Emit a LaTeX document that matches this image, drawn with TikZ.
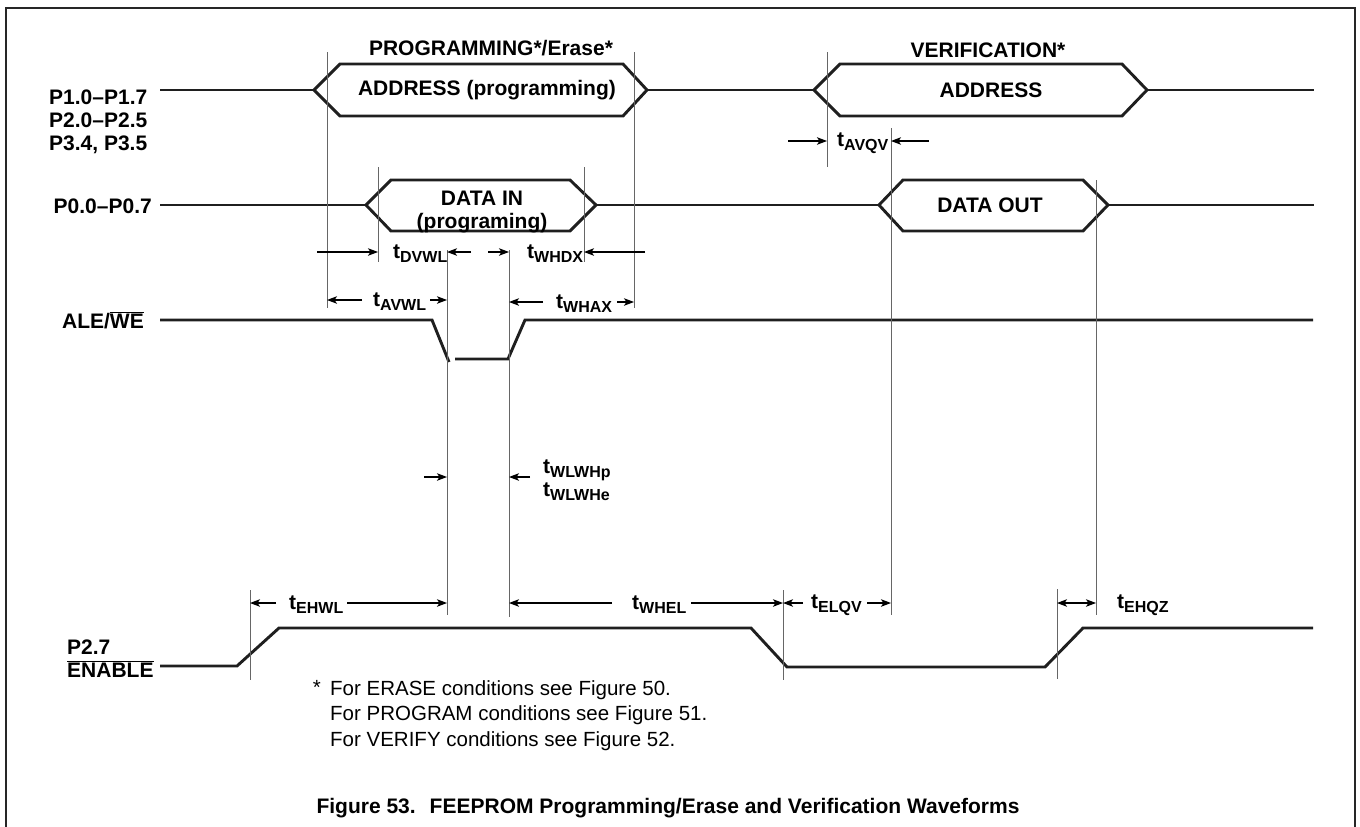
\documentclass[tikz,border=0pt]{standalone}
\usepackage{fontspec}
\setmainfont{Liberation Sans}
\usepackage{tikz}
\usetikzlibrary{arrows.meta,positioning}

\newcommand{\tsub}[1]{t\raisebox{-4pt}{\fontsize{16}{16}\selectfont #1}}
\newcommand{\ovl}[1]{\ensuremath{\overline{\mbox{#1}}}}

\begin{document}
\begin{tikzpicture}[
    x=1pt, y=-1pt,
    >={Stealth[length=10pt,width=7.5pt,inset=2.5pt]},
    frame/.style={line width=1.8pt, draw=black!85},
    wave/.style={line width=2.9pt, draw=black!88, line join=miter},
    tick/.style={line width=0.9pt, draw=black!60},
    dim/.style={->, line width=1.1pt},
    sig/.style={font=\bfseries\fontsize{21}{23}\selectfont, inner sep=0pt},
    tlbl/.style={font=\bfseries\fontsize{21}{23}\selectfont, inner sep=0pt, anchor=west},
    note/.style={font=\fontsize{20.5}{25.5}\selectfont, inner sep=0pt, align=left}
]
    \useasboundingbox (0,0) rectangle (1360,827);
    \draw[frame] (6,827) -- (6,8) -- (1355,8) -- (1355,827);

    % Signal names
    \node[sig, align=left, anchor=north west] (portA) at (49,89.5) {P1.0--P1.7\\P2.0--P2.5\\P3.4, P3.5};
    \node[sig, anchor=base east] (port0) at (152,213) {P0.0--P0.7};
    \node[sig, anchor=base east] (ale) at (144,328) {ALE/\ovl{WE}};
    \node[sig, align=left, anchor=north west] (enable) at (67,639.5) {P2.7\\\ovl{ENABLE}};

    % Phase headers
    \node[sig] (progHdr) at (491,48) {PROGRAMMING*/Erase*};
    \node[sig] (verHdr) at (988,50) {VERIFICATION*};

    % Address bus
    \draw[wave] (160,90) -- (314,90);
    \draw[wave] (314,90) -- (340,64) -- (623,64) -- (647,90) -- (623,116) -- (340,116) -- cycle;
    \draw[wave] (647,90) -- (814,90);
    \draw[wave] (814,90) -- (840,64) -- (1122,64) -- (1147,90) -- (1122,116) -- (840,116) -- cycle;
    \draw[wave] (1147,90) -- (1314,90);
    \node[sig] (addrP) at (487,90) {ADDRESS (programming)};
    \node[sig] (addrV) at (991,90) {ADDRESS};

    % Data bus
    \draw[wave] (160,205) -- (366,205);
    \draw[wave] (366,205) -- (391,180) -- (570,180) -- (596,205) -- (570,231) -- (391,231) -- cycle;
    \draw[wave] (596,205) -- (879,205);
    \draw[wave] (879,205) -- (903,180) -- (1083,180) -- (1108,205) -- (1083,231) -- (903,231) -- cycle;
    \draw[wave] (1108,205) -- (1314,205);
    \node[sig, align=center] (dataIn) at (482,212) {DATA IN\\(programing)};
    \node[sig] (dataOut) at (990,205) {DATA OUT};

    % ALE/WE
    \draw[wave] (160,320) -- (432,320) -- (449,362);
    \draw[wave] (455,359) -- (508,359) -- (525,320) -- (1313,320);

    % P2.7 ENABLE
    \draw[wave] (160,666) -- (237,666) -- (279,628) -- (751,628) -- (787,667) -- (1045,667) -- (1083,628) -- (1313,628);

    % Time marks
    \coordinate (avS) at (327,52);   \coordinate (avSb) at (327,308);
    \coordinate (avE) at (634,52);   \coordinate (avEb) at (634,308);
    \coordinate (dvS) at (378,167);  \coordinate (dvSb) at (378,262);
    \coordinate (dvE) at (584,167);  \coordinate (dvEb) at (584,262);
    \coordinate (wl) at (447,250);   \coordinate (wlb) at (447,615);
    \coordinate (wh) at (509,250);   \coordinate (whb) at (509,617);
    \coordinate (vaS) at (827,52);   \coordinate (vaSb) at (827,167);
    \coordinate (qv) at (891,128);   \coordinate (qvb) at (891,615);
    \coordinate (qz) at (1096,180);  \coordinate (qzb) at (1096,615);
    \coordinate (ehA) at (250,590);  \coordinate (ehAb) at (250,680);
    \coordinate (el) at (783,590);   \coordinate (elb) at (783,680);
    \coordinate (ehB) at (1057,589); \coordinate (ehBb) at (1057,679);
    \draw[tick] (avS) -- (avSb);
    \draw[tick] (avE) -- (avEb);
    \draw[tick] (dvS) -- (dvSb);
    \draw[tick] (dvE) -- (dvEb);
    \draw[tick] (wl) -- (wlb);
    \draw[tick] (wh) -- (whb);
    \draw[tick] (vaS) -- (vaSb);
    \draw[tick] (qv) -- (qvb);
    \draw[tick] (qz) -- (qzb);
    \draw[tick] (ehA) -- (ehAb);
    \draw[tick] (el) -- (elb);
    \draw[tick] (ehB) -- (ehBb);

    % Timing parameters
    \coordinate (dvwlL) at (317,252);  \coordinate (dvwlR) at (471,252);
    \node[tlbl] (dvwl) at (393,254) {\tsub{DVWL}};
    \draw[dim] (dvwlL) -- (dvS |- dvwlL);
    \draw[dim] (dvwlR) -- (wl |- dvwlR);

    \coordinate (whdxL) at (488,252);  \coordinate (whdxR) at (645,252);
    \node[tlbl] (whdx) at (527,254) {\tsub{WHDX}};
    \draw[dim] (whdxL) -- (wh |- whdxL);
    \draw[dim] (whdxR) -- (dvE |- whdxR);

    \coordinate (avwlL) at (362,300);  \coordinate (avwlR) at (430,300);
    \node[tlbl] (avwl) at (373,302) {\tsub{AVWL}};
    \draw[dim] (avwlL) -- (avS |- avwlL);
    \draw[dim] (avwlR) -- (wl |- avwlR);

    \coordinate (whaxL) at (543,302);  \coordinate (whaxR) at (617,302);
    \node[tlbl] (whax) at (556,304) {\tsub{WHAX}};
    \draw[dim] (whaxL) -- (wh |- whaxL);
    \draw[dim] (whaxR) -- (avE |- whaxR);

    \coordinate (avqvL) at (788,141);  \coordinate (avqvR) at (929,141);
    \node[tlbl] (avqv) at (837,143) {\tsub{AVQV}};
    \draw[dim] (avqvL) -- (vaS |- avqvL);
    \draw[dim] (avqvR) -- (qv |- avqvR);

    \coordinate (wlwhL) at (424,477);  \coordinate (wlwhR) at (530,477);
    \node[tlbl] (wlwhp) at (543,470) {\tsub{WLWHp}};
    \node[tlbl] (wlwhe) at (543,492) {\tsub{WLWHe}};
    \draw[dim] (wlwhL) -- (wl |- wlwhL);
    \draw[dim] (wlwhR) -- (wh |- wlwhR);

    \coordinate (ehwlL) at (276,603);  \coordinate (ehwlR) at (347,603);
    \node[tlbl] (ehwl) at (289,605) {\tsub{EHWL}};
    \draw[dim] (ehwlL) -- (ehA |- ehwlL);
    \draw[dim] (ehwlR) -- (wl |- ehwlR);

    \coordinate (whelL) at (612,603);  \coordinate (whelR) at (691,603);
    \node[tlbl] (whel) at (632,605) {\tsub{WHEL}};
    \draw[dim] (whelL) -- (wh |- whelL);
    \draw[dim] (whelR) -- (el |- whelR);

    \coordinate (elqvL) at (803,603);  \coordinate (elqvR) at (867,603);
    \node[tlbl] (elqv) at (811,605) {\tsub{ELQV}};
    \draw[dim] (elqvL) -- (el |- elqvL);
    \draw[dim] (elqvR) -- (qv |- elqvR);

    \node[tlbl] (ehqz) at (1117,605) {\tsub{EHQZ}};
    \draw[dim, <->] (ehB |- ehwlL) -- (qz |- ehwlL);

    % Notes
    \node[note, anchor=north west] (fn) at (330,680) {For ERASE conditions see Figure 50.\\For PROGRAM conditions see Figure 51.\\For VERIFY conditions see Figure 52.};
    \node[note, anchor=north east] (fnStar) at ([xshift=-9pt]fn.north west) {*};
    \node[font=\bfseries\fontsize{21}{24}\selectfont, inner sep=0pt] (caption) at (668,808) {Figure 53.\hspace{14pt}FEEPROM Programming/Erase and Verification Waveforms};
\end{tikzpicture}
\end{document}
